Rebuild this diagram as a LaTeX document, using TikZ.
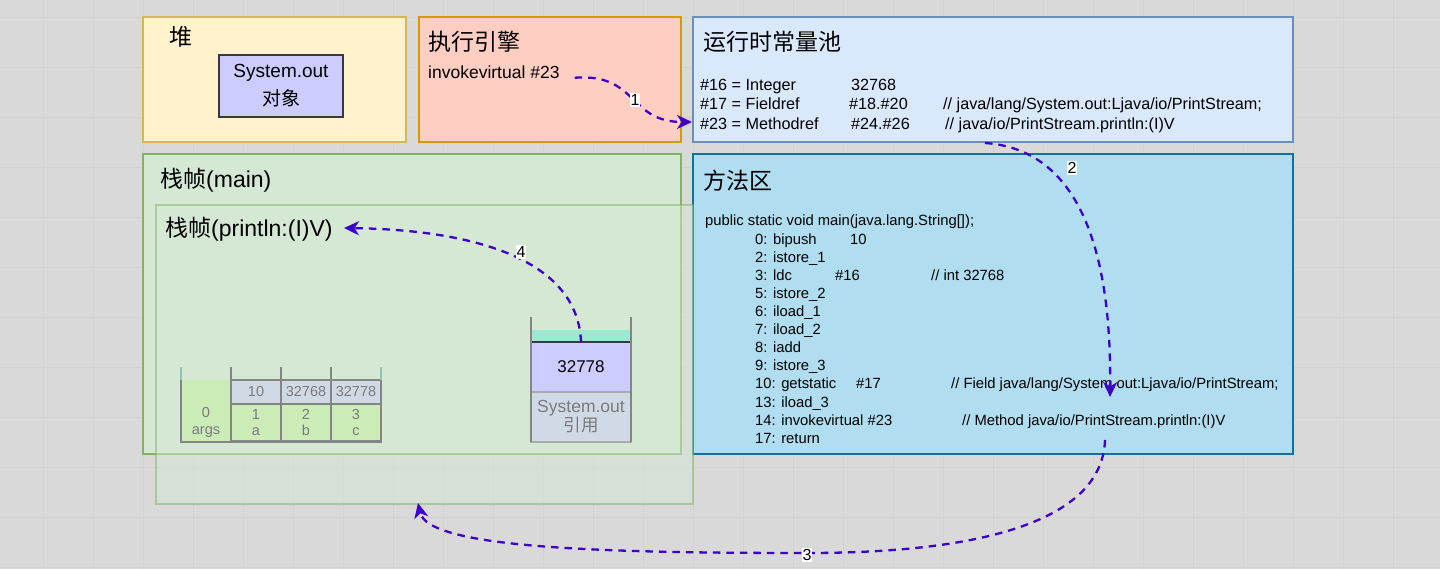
\documentclass[tikz,border=0pt]{standalone}
\usepackage{fontspec}
\setmainfont{Liberation Sans}
\newfontfamily\cjk{Noto Sans CJK SC}
\usetikzlibrary{arrows.meta}
\definecolor{bgc}{HTML}{D9D9D9}
\definecolor{gridc}{HTML}{D2D2D2}
\definecolor{heapf}{HTML}{FFF2CC}
\definecolor{heapd}{HTML}{D6B656}
\definecolor{execf}{HTML}{FFCEC2}
\definecolor{execd}{HTML}{D79B00}
\definecolor{poolf}{HTML}{DAE8FC}
\definecolor{poold}{HTML}{6C8EBF}
\definecolor{mainf}{HTML}{D5E8D4}
\definecolor{maind}{HTML}{82B366}
\definecolor{methf}{HTML}{B1DDF0}
\definecolor{methd}{HTML}{10739E}
\definecolor{objf}{HTML}{CCCCFF}
\definecolor{objd}{HTML}{36393D}
\definecolor{arrc}{HTML}{3C00C8}
\definecolor{cellg}{HTML}{CBEBB7}
\definecolor{cellb}{HTML}{D0DAE7}
\definecolor{walld}{HTML}{858585}
\definecolor{tealf}{HTML}{9CE8D0}
\definecolor{greyt}{HTML}{7A7A7A}
\tikzset{
  box/.style={draw, line width=1.1pt, inner sep=0pt, outer sep=0pt, anchor=north west},
  title/.style={anchor=west, inner sep=0pt, font=\fontsize{23}{27}\selectfont},
  pooltxt/.style={anchor=base west, inner sep=0pt, font=\fontsize{16.2}{19}\selectfont},
  code/.style={anchor=base west, inner sep=0pt, font=\fontsize{14.8}{18}\selectfont},
  cell/.style={draw=walld, line width=1.5pt, inner sep=0pt, outer sep=0pt, anchor=north west,
    minimum width=50pt, text=greyt, font=\fontsize{14.5}{16.5}\selectfont, align=center},
  flow/.style={draw=arrc, line width=2.3pt, dash pattern=on 7.5pt off 6pt,
    -{Stealth[length=15pt,width=14pt,inset=4.5pt]}},
  lbl/.style={fill=white, inner sep=1pt, font=\fontsize{16}{18}\selectfont},
}
\begin{document}
\begin{tikzpicture}[x=1pt,y=-1pt]
\useasboundingbox (0,0) rectangle (1440,569);
\fill[bgc] (0,0) rectangle (1440,569);
\foreach \gx in {43,93,...,1443} \draw[gridc, line width=0.5pt] (\gx,0) -- (\gx,569);
\foreach \gy in {17,67,...,567} \draw[gridc, line width=0.5pt] (0,\gy) -- (1440,\gy);

% heap
\node[box, fill=heapf, draw=heapd, minimum width=263pt, minimum height=125pt] (heap) at (143,17) {};
\node[title] (theap) at (169,37) {\cjk 堆};
\node[box, fill=objf, draw=objd, minimum width=124pt, minimum height=62pt, line width=1.2pt,
  align=center, font=\fontsize{19}{28}\selectfont] (obj) at (219,55) {System.out\\{\cjk 对象}};

% execution engine
\node[box, fill=execf, draw=execd, minimum width=262pt, minimum height=125pt] (exec) at (419,17) {};
\node[title] (texec) at (428,42) {\cjk 执行引擎};
\node[anchor=base west, inner sep=0pt, font=\fontsize{17.5}{20}\selectfont] (invoke) at (428,79) {invokevirtual \#23};

% runtime constant pool
\node[box, fill=poolf, draw=poold, minimum width=600pt, minimum height=125pt] (pool) at (693,17) {};
\node[title] (tpool) at (703,42) {\cjk 运行时常量池};
\node[pooltxt] (p1a) at (700,91) {\#16 = Integer};
\node[pooltxt] (p1b) at (851,91) {32768};
\node[pooltxt] (p2a) at (700,110) {\#17 = Fieldref};
\node[pooltxt] (p2b) at (849,110) {\#18.\#20};
\node[pooltxt] (p2c) at (943,110) {// java/lang/System.out:Ljava/io/PrintStream;};
\node[pooltxt] (p3a) at (700,130) {\#23 = Methodref};
\node[pooltxt] (p3b) at (851,130) {\#24.\#26};
\node[pooltxt] (p3c) at (945,130) {// java/io/PrintStream.println:(I)V};

% stack frame main
\node[box, fill=mainf, draw=maind, minimum width=538pt, minimum height=300pt] (mainf) at (143,154) {};
\node[title] (tmain) at (160,180) {{\cjk 栈帧}(main)};

% method area
\node[box, fill=methf, draw=methd, minimum width=600pt, minimum height=300pt] (meth) at (693,154) {};
\node[title] (tmeth) at (703,181) {\cjk 方法区};
\node[code] (c0) at (705,226) {public static void main(java.lang.String[]);};
\node[code] (c1) at (755,244.1) {0: bipush};
\node[code] (c1b) at (850,244.1) {10};
\node[code] (c2) at (755,262.2) {2: istore\_1};
\node[code] (c3) at (755,280.3) {3: ldc};
\node[code] (c3b) at (835,280.3) {\#16};
\node[code] (c3c) at (931,280.3) {// int 32768};
\node[code] (c4) at (755,298.4) {5: istore\_2};
\node[code] (c5) at (755,316.5) {6: iload\_1};
\node[code] (c6) at (755,334.6) {7: iload\_2};
\node[code] (c7) at (755,352.7) {8: iadd};
\node[code] (c8) at (755,370.8) {9: istore\_3};
\node[code] (c9) at (755,388.9) {10: getstatic};
\node[code] (c9b) at (856,388.9) {\#17};
\node[code] (c9c) at (951,388.9) {// Field java/lang/System.out:Ljava/io/PrintStream;};
\node[code] (c10) at (755,407) {13: iload\_3};
\node[code] (c11) at (755,425.1) {14: invokevirtual \#23};
\node[code] (c11c) at (962,425.1) {// Method java/io/PrintStream.println:(I)V};
\node[code] (c12) at (755,443.2) {17: return};

% stack frame println (semi transparent)
\node[box, fill=mainf, draw=maind, opacity=0.5, minimum width=537pt, minimum height=299pt] (prf) at (156,205) {};
\node[title] (tprf) at (165,229) {{\cjk 栈帧}(println:(I)V)};

% local variable table
\fill[cellg] (181,380) rectangle (231,441);
\node[cell, draw=none, fill=none, minimum height=37pt] (l0) at (181,404) {0\\args};
\node[cell, fill=cellb, minimum height=24pt] (v1) at (231,380) {10};
\node[cell, fill=cellb, minimum height=24pt] (v2) at (281,380) {32768};
\node[cell, fill=cellb, minimum height=24pt] (v3) at (331,380) {32778};
\node[cell, fill=cellg, minimum height=37pt] (l1) at (231,404) {1\\a};
\node[cell, fill=cellg, minimum height=37pt] (l2) at (281,404) {2\\b};
\node[cell, fill=cellg, minimum height=37pt] (l3) at (331,404) {3\\c};
\draw[walld, line width=1.5pt] (181,367) -- (181,441.75) -- (381,441.75) -- (381,367);
\draw[walld, line width=1.5pt] (231,367) -- (231,380) (281,367) -- (281,380) (331,367) -- (331,380);
\draw[tealf!60!walld, line width=1.5pt] (181,367) -- (181,380) (381,367) -- (381,380);

% operand stack
\fill[tealf] (531,330) rectangle (631,342);
\node[box, fill=objf, draw=objd, line width=1.5pt, minimum width=100pt, minimum height=50pt,
  font=\fontsize{17}{20}\selectfont] (val) at (531,342) {32778};
\node[box, fill=cellb, draw=walld!70, line width=1.5pt, minimum width=100pt, minimum height=50pt,
  align=center, text=greyt, font=\fontsize{17.5}{19}\selectfont] (ref) at (531,392) {System.out\\{\cjk 引用}};
\draw[walld, line width=1.5pt] (531,317) -- (531,442) (631,317) -- (631,442);

% connectors
\coordinate (a1s) at ([xshift=15pt, yshift=-5pt]invoke.east);
\coordinate (a1e) at (692,122);
\draw[flow] (a1s) .. controls (638,73) and (628,122) .. (a1e);
\node[lbl] (n1) at (635,100) {1};

\coordinate (a2s) at (985,143);
\coordinate (a2e) at (1110,397);
\draw[flow] (a2s) .. controls (1060,148) and (1112,215) .. (a2e);
\node[lbl] (n2) at (1072,168) {2};

\coordinate (a3s) at (1105,440);
\coordinate (a3m) at (807,553);
\coordinate (a3e) at (418,503);
\draw[flow] (a3s) .. controls (1102,525) and (970,553) .. (a3m)
  .. controls (600,553) and (428,548) .. (a3e);
\node[lbl] (n3) at (807,555) {3};

\coordinate (a4e) at (344,228);
\draw[flow] (val.north) .. controls (578,262) and (480,230) .. (a4e);
\node[lbl] (n4) at (521,252) {4};
\end{tikzpicture}
\end{document}
